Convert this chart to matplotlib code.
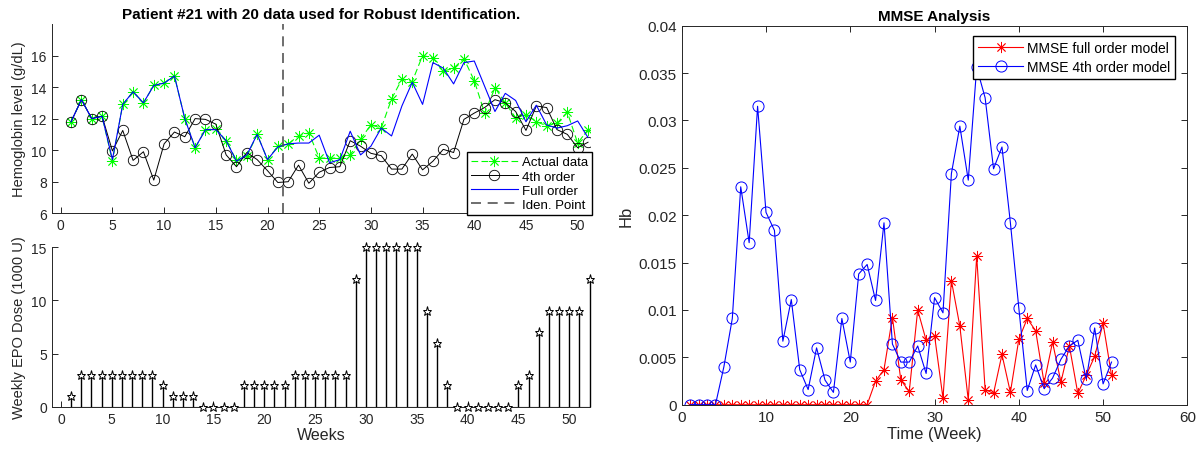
import matplotlib
matplotlib.use("Agg")
import matplotlib.pyplot as plt

plt.rcParams['font.family'] = ['Liberation Sans', 'DejaVu Sans']

# data hemoglobin (minggu 1..51)
weeks = list(range(1, 52))
actual = [11.8, 13.2, 12.0, 12.15, 9.3, 12.9, 13.7, 13.0, 14.1, 14.25,
          14.7, 12.0, 10.15, 11.3, 11.35, 10.6, 9.35, 9.6, 11.0, 9.4,
          10.25, 10.4, 10.9, 11.1, 9.5, 9.5, 9.5, 9.7, 10.7, 11.6,
          11.4, 13.25, 14.5, 14.35, 16.0, 15.85, 15.0, 15.2, 15.8, 14.4,
          12.35, 13.95, 13.0, 12.05, 12.25, 11.8, 11.55, 11.7, 12.4, 10.45,
          11.3]
order4 = [11.8, 13.2, 12.0, 12.15, 9.95, 11.25, 9.35, 9.9, 8.1, 10.4,
          11.15, 10.85, 12.0, 11.95, 11.65, 9.7, 8.95, 9.85, 9.4, 8.7,
          7.95, 8.0, 9.05, 7.9, 8.6, 8.9, 8.95, 10.6, 10.25, 9.8,
          9.65, 8.8, 8.8, 9.75, 8.75, 9.3, 10.05, 9.85, 11.95, 12.35,
          12.7, 13.2, 13.0, 12.45, 11.25, 12.8, 12.7, 11.3, 11.0, 10.15,
          10.5]
full = [11.8, 13.2, 12.0, 12.15, 9.4, 12.9, 13.7, 13.0, 14.1, 14.25,
        14.7, 12.0, 10.15, 11.3, 11.3, 10.6, 9.3, 9.7, 11.0, 9.4,
        10.2, 10.4, 10.45, 10.45, 10.95, 9.2, 9.4, 11.2, 9.7, 10.25,
        11.4, 10.9, 12.8, 14.3, 12.9, 15.55, 15.2, 14.2, 15.55, 15.65,
        14.05, 12.45, 13.6, 13.15, 11.8, 12.85, 11.6, 11.4, 11.55, 11.85,
        10.8]
iden_point = 21.5

# dosis EPO (minggu 1..52)
dose_weeks = list(range(1, 53))
dose = [1, 3, 3, 3, 3, 3, 3, 3, 3, 2,
        1, 1, 1, 0, 0, 0, 0, 2, 2, 2,
        2, 2, 3, 3, 3, 3, 3, 3, 12, 15,
        15, 15, 15, 15, 15, 9, 6, 2, 0, 0,
        0, 0, 0, 0, 2, 3, 7, 9, 9, 9,
        9, 12]

# MMSE
mmse_full = [0, 0, 0, 0, 0, 0, 0, 0, 0, 0,
             0, 0, 0, 0, 0, 0, 0, 0, 0, 0,
             0, 0, 0.0025, 0.0037, 0.0092, 0.0026, 0.0014, 0.0100, 0.0068, 0.0073,
             0.0007, 0.0131, 0.0083, 0.0005, 0.0157, 0.0016, 0.0012, 0.0053, 0.0013, 0.0069,
             0.0091, 0.0078, 0.0023, 0.0066, 0.0024, 0.0062, 0.0012, 0.0031, 0.0051, 0.0086,
             0.0031]
mmse_4th = [0, 0, 0, 0, 0.0040, 0.0091, 0.0230, 0.0171, 0.0315, 0.0203,
            0.0184, 0.0067, 0.0111, 0.0037, 0.0016, 0.0060, 0.0026, 0.0013, 0.0091, 0.0045,
            0.0138, 0.0148, 0.0110, 0.0192, 0.0064, 0.0045, 0.0045, 0.0062, 0.0033, 0.0113,
            0.0097, 0.0244, 0.0294, 0.0237, 0.0356, 0.0324, 0.0249, 0.0272, 0.0192, 0.0102,
            0.0015, 0.0042, 0.0017, 0.0028, 0.0048, 0.0062, 0.0068, 0.0027, 0.0081, 0.0022,
            0.0045]

txt = '#262626'
asterisk = (8, 2, 0)

fig = plt.figure(figsize=(12.03, 4.52), dpi=100)
ax1 = fig.add_axes([0.043, 0.526, 0.4475, 0.4188])
ax2 = fig.add_axes([0.043, 0.098, 0.4475, 0.3527])
ax3 = fig.add_axes([0.5667, 0.1024, 0.4203, 0.8385])

# grafik atas: hemoglobin
ax1.plot(weeks, actual, color=(0, 1, 0), linestyle='--', dashes=(6, 3), marker=asterisk,
         markersize=8, markeredgewidth=0.6, linewidth=0.8, label='Actual data')
ax1.plot(weeks, order4, color='k', marker='o', markerfacecolor='none', markersize=7.5,
         markeredgewidth=0.6, linewidth=0.7, label='4th order')
ax1.plot(weeks, full, color=(0, 0, 1), linewidth=0.8, label='Full order')
ax1.axvline(iden_point, color='#555555', linestyle='--', dashes=(6, 4), linewidth=1.2,
            label='Iden. Point')
ax1.set_xlim(-0.87, 51.2)
ax1.set_ylim(6, 18)
ax1.set_xticks(range(0, 51, 5))
ax1.set_yticks(range(6, 17, 2))
ax1.set_ylabel('Hemoglobin level (g/dL)', fontsize=10.5, color=txt)
ax1.set_title('Patient #21 with 20 data used for Robust Identification.',
              fontsize=11, fontweight='bold', pad=4)
ax1.legend(loc='lower right', bbox_to_anchor=(1.004, -0.009), borderaxespad=0,
           fontsize=9.5, fancybox=False, edgecolor='k', framealpha=1,
           handlelength=3.6, labelspacing=0.15, borderpad=0.3, handletextpad=0.3)

# grafik bawah: dosis EPO
markers, stems, base = ax2.stem(dose_weeks, dose, linefmt='k-', markerfmt='k*', basefmt='k-')
plt.setp(markers, markerfacecolor='white', markeredgecolor='k', markersize=6.5,
         markeredgewidth=0.7, clip_on=False, zorder=5)
plt.setp(stems, linewidth=1.0, clip_on=False)
plt.setp(base, linewidth=0.8)
ax2.set_xlim(-0.9, 52.05)
ax2.set_ylim(0, 15)
ax2.set_xticks(range(0, 51, 5))
ax2.set_yticks([0, 5, 10, 15])
ax2.set_ylabel('Weekly EPO Dose (1000 U)', fontsize=10.5, color=txt)
ax2.set_xlabel('Weeks', fontsize=11.5, color=txt, labelpad=1)

for ax in (ax1, ax2):
    ax.spines['top'].set_visible(False)
    ax.spines['right'].set_visible(False)
    for s in ('left', 'bottom'):
        ax.spines[s].set_color(txt)
        ax.spines[s].set_linewidth(0.7)
    ax.tick_params(direction='in', length=4, width=0.7, labelsize=10, colors=txt)

# grafik kanan: MMSE
ax3.plot(weeks, mmse_full, color=(1, 0, 0), marker=asterisk, markersize=8,
         markeredgewidth=0.6, linewidth=0.8, label='MMSE full order model')
ax3.plot(weeks, mmse_4th, color=(0, 0, 1), marker='o', markerfacecolor='none',
         markersize=8, markeredgewidth=0.7, linewidth=0.8, label='MMSE 4th order model')
ax3.set_xlim(0, 60)
ax3.set_ylim(0, 0.04)
ax3.set_xticks(range(0, 61, 10))
ax3.set_yticks([0, 0.005, 0.01, 0.015, 0.02, 0.025, 0.03, 0.035, 0.04])
ax3.set_yticklabels(['0', '0.005', '0.01', '0.015', '0.02', '0.025', '0.03', '0.035', '0.04'])
ax3.set_xlabel('Time (Week)', fontsize=12, color=txt, labelpad=2)
ax3.set_ylabel('Hb', fontsize=12, color=txt)
ax3.set_title('MMSE Analysis', fontsize=11, fontweight='bold', pad=4)
for s in ax3.spines.values():
    s.set_color(txt)
    s.set_linewidth(0.7)
ax3.tick_params(direction='in', length=4, width=0.7, labelsize=11, colors=txt,
                top=True, right=True)
ax3.legend(loc='upper right', bbox_to_anchor=(0.9757, 0.9728), borderaxespad=0,
           fontsize=10, fancybox=False, edgecolor='k', framealpha=1,
           handlelength=3.2, labelspacing=0.35, borderpad=0.35, handletextpad=0.3)

plt.savefig('out.png', dpi=100)
